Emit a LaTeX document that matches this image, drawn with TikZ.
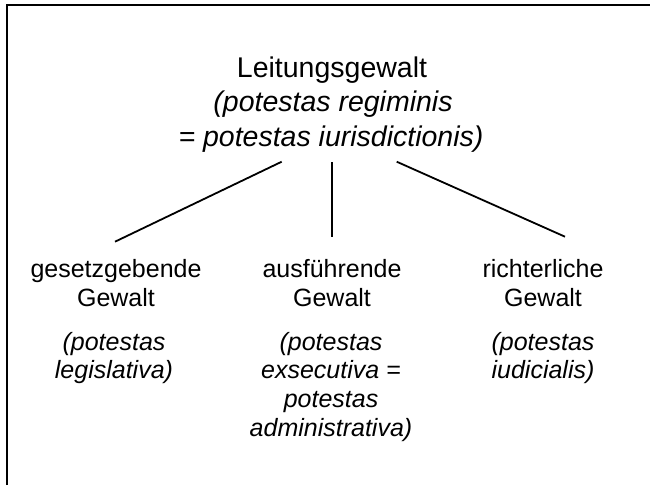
\documentclass[tikz,border=0pt]{standalone}
\usepackage{fontspec}
\setmainfont{Liberation Sans}
\begin{document}
\begin{tikzpicture}[x=1pt,y=-1pt,
  toptext/.style={font=\fontsize{28.5}{34}\selectfont, anchor=base, inner sep=0pt},
  bottext/.style={font=\fontsize{25}{29}\selectfont, anchor=base, inner sep=0pt},
  conn/.style={line width=1.8pt},
  frameline/.style={line width=2.6pt}]
\useasboundingbox (0,0) rectangle (650,485);
\draw[frameline] (7,485) -- (7,5) -- (650,5);
% top block
\node[toptext] (t1) at (332,77) {Leitungsgewalt};
\node[toptext] (t2) at (333,111.5) {\itshape (potestas regiminis};
\node[toptext] (t3) at (331,146) {\itshape = potestas iurisdictionis)};
% left column
\node[bottext] (l1) at (116,277) {gesetzgebende};
\node[bottext] (l2) at (116,306) {Gewalt};
\node[bottext] (l3) at (114,350) {\itshape (potestas};
\node[bottext] (l4) at (114,378.5) {\itshape legislativa)};
% middle column
\node[bottext] (m1) at (332,277) {ausführende};
\node[bottext] (m2) at (332,306) {Gewalt};
\node[bottext] (m3) at (331,350) {\itshape (potestas};
\node[bottext] (m4) at (331,378.7) {\itshape exsecutiva =};
\node[bottext] (m5) at (331,407.3) {\itshape potestas};
\node[bottext] (m6) at (331,436) {\itshape administrativa)};
% right column
\node[bottext] (r1) at (543,277) {richterliche};
\node[bottext] (r2) at (543,306) {Gewalt};
\node[bottext] (r3) at (543,350) {\itshape (potestas};
\node[bottext] (r4) at (543,378.5) {\itshape iudicialis)};
% connector ends
\coordinate (ca) at (281.7,161.7);
\coordinate (cb) at (331.7,162);
\coordinate (cc) at (396.7,161.7);
\coordinate (da) at (115,241.7);
\coordinate (db) at (331.7,236.7);
\coordinate (dc) at (565,236.7);
\draw[conn] (ca) -- (da);
\draw[conn] (cb) -- (db);
\draw[conn] (cc) -- (dc);
\end{tikzpicture}
\end{document}
